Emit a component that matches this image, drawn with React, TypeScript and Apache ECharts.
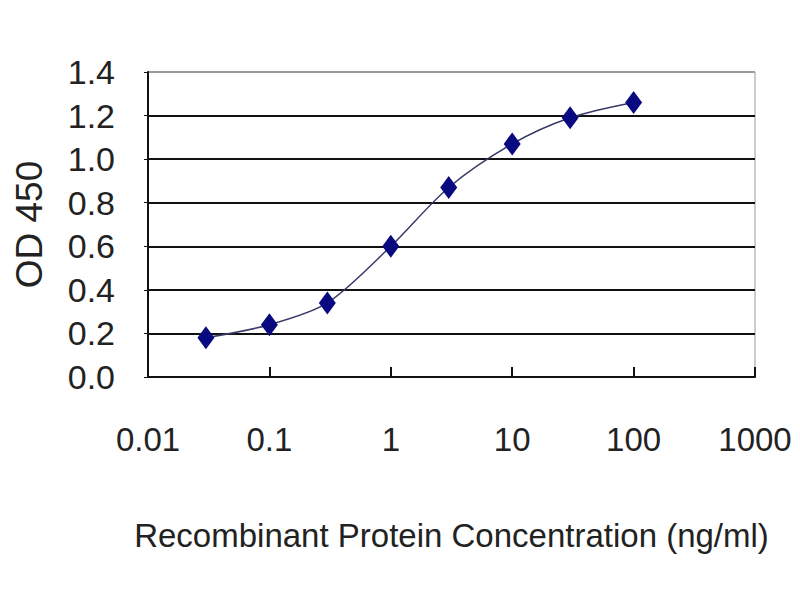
import React, { useEffect, useRef } from "react";
import * as echarts from "echarts";

const concentrations = [0.03, 0.1, 0.3, 1, 3, 10, 30, 100];
const odValues = [0.18, 0.24, 0.34, 0.6, 0.87, 1.07, 1.19, 1.26];
const xTickLabels = ["0.01", "0.1", "1", "10", "100", "1000"];
const yTickLabels = ["0.0", "0.2", "0.4", "0.6", "0.8", "1.0", "1.2", "1.4"];

const FONT = "'Liberation Sans', Arial, sans-serif";

export default function App() {
  const ref = useRef<HTMLDivElement>(null);
  useEffect(() => {
    const chart = echarts.init(ref.current!, null, { renderer: "svg" });
    chart.setOption({
      animation: false,
      backgroundColor: "#ffffff",
      grid: {
        left: 148,
        right: 45,
        top: 72,
        bottom: 223,
        show: true,
        borderColor: "#9a9a9a",
        borderWidth: 1,
        outerBoundsMode: "none",
      },
      xAxis: {
        type: "log",
        logBase: 10,
        min: 0.01,
        max: 1000,
        name: "Recombinant Protein Concentration (ng/ml)",
        nameLocation: "middle",
        nameGap: 142,
        nameTextStyle: { fontFamily: FONT, fontSize: 33, color: "#222" },
        axisLine: { show: true, lineStyle: { color: "#111", width: 2 } },
        axisTick: { show: true, inside: true, length: 10, lineStyle: { color: "#111", width: 2 } },
        splitLine: { show: false },
        minorTick: { show: false },
        axisLabel: {
          margin: 46,
          fontFamily: FONT,
          fontSize: 33,
          color: "#222",
          formatter: (v: number) => xTickLabels[Math.round(Math.log10(v)) + 2],
        },
      },
      yAxis: {
        type: "value",
        min: 0,
        max: 1.4,
        interval: 0.2,
        name: "OD 450",
        nameLocation: "middle",
        nameGap: 100,
        nameRotate: 90,
        nameTextStyle: { fontFamily: FONT, fontSize: 37, color: "#222" },
        axisLine: { show: true, lineStyle: { color: "#111", width: 2 } },
        axisTick: { show: true, inside: false, length: 4, lineStyle: { color: "#111", width: 1 } },
        splitLine: {
          show: true,
          lineStyle: {
            color: ["#111", "#111", "#111", "#111", "#111", "#111", "#111", "#9a9a9a"],
            width: 2,
          },
        },
        axisLabel: {
          margin: 33,
          fontFamily: FONT,
          fontSize: 34,
          color: "#222",
          formatter: (v: number) => yTickLabels[Math.round(v / 0.2)],
        },
      },
      series: [
        {
          type: "line",
          data: concentrations.map((c, i) => [c, odValues[i]]),
          smooth: 0.3,
          symbol: "diamond",
          symbolSize: [17, 23],
          lineStyle: { color: "#3a3a6a", width: 1.5 },
          itemStyle: { color: "#0a0a80" },
        },
      ],
    });
    return () => chart.dispose();
  }, []);
  return (
    <div
      ref={ref}
      style={{ position: "absolute", left: 0, top: 0, width: 800, height: 600, background: "#fff" }}
    />
  );
}
